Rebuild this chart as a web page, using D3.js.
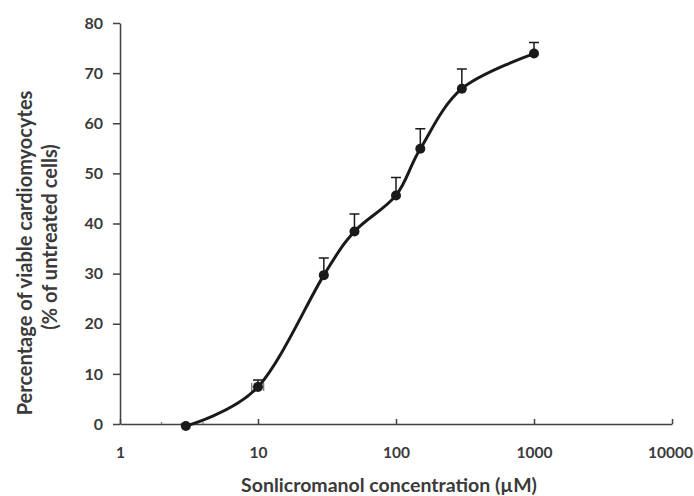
<!DOCTYPE html>
<html>
<head>
<meta charset="utf-8">
<script src="https://cdn.jsdelivr.net/npm/d3@7"></script>
<style>
    body { margin: 0; background: #fff; }
    text { font-family: Lato, "Open Sans", sans-serif; font-weight: bold; fill: #3a3a3a; }
</style>
</head>
<body>
<div id="chart"></div>
<script>
// data
var concentration = [3, 10, 30, 50, 100, 150, 300, 1000];
var viability = [-0.4, 7.4, 29.7, 38.4, 45.6, 54.9, 66.9, 73.9];
var viabilityErr = [0.4, 1.4, 3.4, 3.5, 3.6, 4.0, 3.9, 2.2];
var concentrationErr = [1, 1, 1, 1, 1, 1, 1, 1];
var xTicks = [1, 10, 100, 1000, 10000];
var yTicks = [0, 10, 20, 30, 40, 50, 60, 70, 80];

var width = 694,
    height = 496,
    margin = { top: 23, right: 22, bottom: 72, left: 120 };

var svg = d3.select('#chart')
    .append('svg')
    .attr('width', width)
    .attr('height', height);

var x = d3.scaleLog()
    .domain([1, 10000])
    .range([margin.left, width - margin.right]);

var y = d3.scaleLinear()
    .domain([0, 80])
    .range([height - margin.bottom, margin.top]);

var points = concentration.map(function(c, i) {
    return { c: c, v: viability[i], e: viabilityErr[i], ce: concentrationErr[i] };
});

// plot area clip (error bars get cut at the axes)
svg.append('clipPath')
    .attr('id', 'plot')
    .append('rect')
    .attr('x', margin.left)
    .attr('y', margin.top - 10)
    .attr('width', width - margin.left - margin.right)
    .attr('height', height - margin.bottom - margin.top + 10);

// y axis
var yAxis = svg.append('g')
    .attr('transform', 'translate(' + margin.left + ',0)')
    .call(d3.axisLeft(y).tickValues(yTicks).tickSize(7).tickPadding(10).tickSizeOuter(0));
yAxis.select('.domain').attr('stroke', '#404040').attr('stroke-width', 1.5);
yAxis.selectAll('.tick line').attr('stroke', '#404040').attr('stroke-width', 1.5);
yAxis.selectAll('.tick text')
    .style('font-size', '16px')
    .style('font-family', 'Lato, sans-serif')
    .style('font-weight', 'bold')
    .attr('fill', '#3a3a3a');

// x axis (ticks point inwards)
var xAxis = svg.append('g')
    .attr('transform', 'translate(0,' + y(0) + ')')
    .call(d3.axisBottom(x).tickValues(xTicks).tickFormat(d3.format('d')).tickSize(-5).tickPadding(23).tickSizeOuter(0));
xAxis.select('.domain').attr('stroke', '#404040').attr('stroke-width', 1.5);
xAxis.selectAll('.tick line').attr('stroke', '#404040').attr('stroke-width', 1.5);
xAxis.selectAll('.tick text')
    .style('font-size', '15.5px')
    .style('font-family', 'Lato, sans-serif')
    .style('font-weight', 'bold')
    .attr('fill', '#3a3a3a');
// last label sits right on the edge, nudge it in
xAxis.selectAll('.tick text')
    .filter(function(d) { return d === 10000; })
    .attr('dx', -2);

var bars = svg.append('g').attr('clip-path', 'url(#plot)');

// horizontal error bars (grey)
bars.selectAll('.xerr')
    .data(points)
    .enter()
    .append('path')
    .attr('class', 'xerr')
    .attr('fill', 'none')
    .attr('stroke', '#777')
    .attr('stroke-width', 1.2)
    .attr('d', function(d) {
        var x0 = x(d.c - d.ce), x1 = x(d.c + d.ce), yy = y(d.v);
        return 'M' + x0 + ',' + (yy - 4) + 'V' + (yy + 4) +
            'M' + x0 + ',' + yy + 'H' + x1 +
            'M' + x1 + ',' + (yy - 4) + 'V' + (yy + 4);
    });

// vertical error bars (upper only)
bars.selectAll('.yerr')
    .data(points)
    .enter()
    .append('path')
    .attr('class', 'yerr')
    .attr('fill', 'none')
    .attr('stroke', '#1a1a1a')
    .attr('stroke-width', 1.5)
    .attr('d', function(d) {
        var xx = x(d.c), top = y(d.v + d.e);
        return 'M' + xx + ',' + y(d.v) + 'V' + top +
            'M' + (xx - 5) + ',' + top + 'H' + (xx + 5);
    });

// smoothed line
var line = d3.line()
    .x(function(d) { return x(d.c); })
    .y(function(d) { return y(d.v); })
    .curve(d3.curveCardinal.tension(0));

svg.append('path')
    .datum(points)
    .attr('fill', 'none')
    .attr('stroke', '#1a1a1a')
    .attr('stroke-width', 3)
    .attr('d', line);

svg.selectAll('.dot')
    .data(points)
    .enter()
    .append('circle')
    .attr('class', 'dot')
    .attr('cx', function(d) { return x(d.c); })
    .attr('cy', function(d) { return y(d.v); })
    .attr('r', 5)
    .attr('fill', '#1a1a1a');

// titles
svg.append('text')
    .attr('x', 389)
    .attr('y', 492)
    .attr('text-anchor', 'middle')
    .style('font-size', '19.5px')
    .text('Sonlicromanol concentration (\u00b5M)');

svg.append('text')
    .attr('transform', 'translate(32,253) rotate(-90)')
    .attr('text-anchor', 'middle')
    .style('font-size', '20px')
    .text('Percentage of viable cardiomyocytes');

svg.append('text')
    .attr('transform', 'translate(57,237) rotate(-90)')
    .attr('text-anchor', 'middle')
    .style('font-size', '20px')
    .text('(% of untreated cells)');
</script>
</body>
</html>
